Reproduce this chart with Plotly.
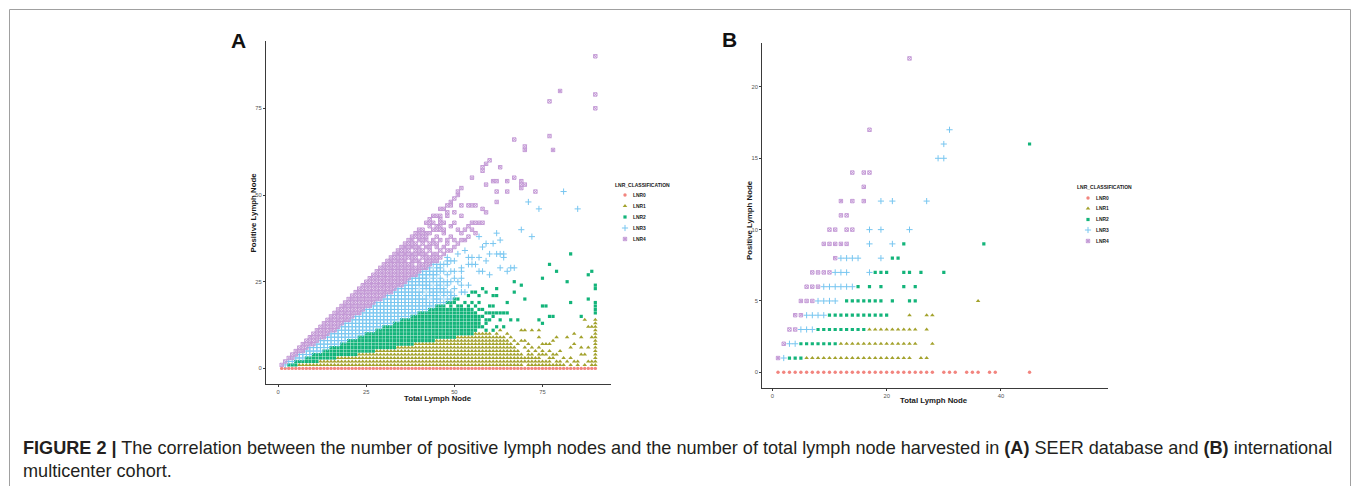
import plotly.graph_objects as go

W, H = 1360, 486

# ---------------- DATA ----------------
CATS = ["LNR0", "LNR1", "LNR2", "LNR3", "LNR4"]
COLORS = ["#F2857F", "#A3A22C", "#13B47A", "#78C6F0", "#C49AD6"]

# Panel A (SEER): per total-lymph-node column, runs of positive-node values per class
A_LNR0 = {x: "0" for x in [1, 2, 3, 4, 5, 6, 7, 8, 9, 10, 11, 12, 13, 14, 15, 16, 17, 18, 19, 20,
                           21, 22, 23, 24, 25, 26, 27, 28, 29, 30, 31, 32, 33, 34, 35, 36, 37, 38, 39, 40,
                           41, 42, 43, 44, 45, 46, 47, 48, 49, 50, 51, 52, 53, 54, 55, 56, 57, 58, 59, 60,
                           61, 62, 63, 64, 65, 66, 67, 68, 69, 70, 71, 72, 73, 74, 75, 76, 77, 78, 79, 80,
                           81, 82, 83, 84, 85, 86, 87, 88, 89, 90]}
A_LNR1 = {6: "1", 7: "1", 8: "1", 9: "1", 10: "1", 11: "1", 12: "1-2", 13: "1-2", 14: "1-2", 15: "1-2",
          16: "1-2", 17: "1-3", 18: "1-3", 19: "1-3", 20: "1-3", 21: "1-3", 22: "1-3", 23: "1-4", 24: "1-4",
          25: "1-4", 26: "1-4", 27: "1-4", 28: "1-5", 29: "1-5", 30: "1-5", 31: "1-5", 32: "1-5", 33: "1-5",
          34: "1-6", 35: "1-6", 36: "1-6", 37: "1-6", 38: "1-6", 39: "1-7", 40: "1-7", 41: "1-7", 42: "1-7",
          43: "1-7", 44: "1-7", 45: "1-8", 46: "1-8", 47: "1-8", 48: "1-8", 49: "1-8", 50: "1-8", 51: "1-9",
          52: "1-9", 53: "1-9", 54: "1-9", 55: "1-9", 56: "1-10", 57: "1-10", 58: "1-10", 59: "1-10",
          60: "1-10", 61: "1-9", 62: "1-10", 63: "1-9,11", 64: "1-9", 65: "1-8,10", 66: "1-7,9", 67: "1-6,8",
          68: "1-5,7", 69: "1-4,8,11", 70: "2-3,6,8,11", 71: "1-5,7", 72: "1-4,6,11", 73: "1-3,5",
          74: "1-4,6,9,11", 75: "1-2,4-5,7", 76: "1-2,4,7", 77: "1-3,5,7", 78: "1,3-4,8", 79: "1-2,4,9",
          80: "1-2,5", 81: "1,3", 82: "2,9", 83: "1,3,6", 84: "2,7,10", 85: "1-2", 86: "4,6,9", 87: "1,4,14",
          88: "2,6,12", 89: "1-2,9,12", 90: "1-14"}
A_LNR2 = {3: "1", 4: "1", 5: "1-2", 6: "2", 7: "2", 8: "2-3", 9: "2-3", 10: "2-4", 11: "2-4", 12: "3-4",
          13: "3-5", 14: "3-5", 15: "3-6", 16: "3-6", 17: "4-6", 18: "4-7", 19: "4-7", 20: "4-8", 21: "4-8",
          22: "4-8", 23: "5-9", 24: "5-9", 25: "5-10", 26: "5-10", 27: "5-10", 28: "6-11", 29: "6-11",
          30: "6-12", 31: "6-12", 32: "6-12", 33: "6-13", 34: "7-13", 35: "7-14", 36: "7-14", 37: "7-14",
          38: "7-15", 39: "8-15", 40: "8-16", 41: "8-16", 42: "8-16", 43: "8-17", 44: "8-17", 45: "9-18",
          46: "9-18", 47: "9-18", 48: "9-17,19", 49: "9-19", 50: "9-17,19-20", 51: "10-18,20", 52: "10-18",
          53: "10-17,19", 54: "10-18,21", 55: "10-17,19,22", 56: "11-16,18,22", 57: "12-15,17,19,21",
          58: "12,15,17,23", 59: "11,13-14,16,22", 60: "14,16,18", 61: "11,15-16,18,21", 62: "12,16,21,23",
          63: "14,16", 64: "12,16", 65: "16,19", 66: "14", 67: "22,25", 68: "14", 69: "24", 70: "20",
          74: "14", 75: "13,18,26", 76: "18", 77: "15,30", 78: "15", 79: "28", 82: "25", 83: "19,33",
          86: "15", 88: "20,27", 89: "28", 90: "16-19,23-24"}
A_LNR3 = {2: "1", 3: "2", 4: "2", 5: "3", 6: "3-4", 7: "3-4", 8: "4-5", 9: "4-6", 10: "5-6", 11: "5-7",
          12: "5-8", 13: "6-8", 14: "6-9", 15: "7-10", 16: "7-10", 17: "7-11", 18: "8-12", 19: "8-13",
          20: "9-13", 21: "9-14", 22: "9-15", 23: "10-15", 24: "10-16", 25: "11-17", 26: "11-17",
          27: "11-18", 28: "12-19", 29: "12-19", 30: "13-20", 31: "13-21", 32: "13-21", 33: "14-22",
          34: "14-23", 35: "15-23", 36: "15-24", 37: "15-25", 38: "16-26", 39: "16-26", 40: "17-22,24-27",
          41: "17-20,22-28", 42: "17-21,23-28", 43: "18-19,21-25,27-29", 44: "18-23,25-28,30",
          45: "19-25,27-30", 46: "19-20,22-26,28-30", 47: "19,21-23,25,28,30", 48: "20,22,24-25,27,30-32",
          49: "20-22,25,28,31", 50: "21,23,26,28,31", 51: "25,33", 52: "22,24,26,28-29", 53: "22,34",
          54: "24,30,32", 55: "30,32", 56: "30", 57: "28,32,38", 58: "28,35", 59: "31,36", 60: "27,33",
          61: "36", 62: "33,39", 63: "29,33,37", 64: "32-33", 65: "28", 66: "29", 67: "29", 69: "40",
          71: "48", 72: "38", 74: "46", 81: "51", 85: "46"}
A_LNR4 = {1: "1", 2: "2", 3: "3", 4: "3-4", 5: "4-5", 6: "5-6", 7: "5-7", 8: "6-8", 9: "7-9", 10: "7-10",
          11: "8-11", 12: "9-12", 13: "9-13", 14: "10-14", 15: "11-15", 16: "11-16", 17: "12-17",
          18: "13-18", 19: "14-19", 20: "14-20", 21: "15-21", 22: "16-22", 23: "16-23", 24: "17-24",
          25: "18-25", 26: "18-26", 27: "19-27", 28: "20-28", 29: "20-29", 30: "21-30", 31: "22-31",
          32: "22-32", 33: "23-33", 34: "24-34", 35: "24-35", 36: "25-36", 37: "26-30,32-37",
          38: "27-33,35-38", 39: "27-29,31-36,38-39", 40: "28-31,33-35,37-40", 41: "29-30,32-34,36-40",
          42: "29-33,35,37-39,42", 43: "30-32,34-36,39,41-43", 44: "31-33,36-37,40,42,44",
          45: "31-33,35-36,38,40-41,44", 46: "32,34,37,40-44,46", 47: "33,35,39-40,42,46",
          48: "34,36-37,44-45,47", 49: "34,38,41,47-48", 50: "35,37,42,45,49", 51: "36,40,50-51",
          52: "37,39,44,47,52", 53: "37,40", 54: "38,41,47", 55: "40,42,47,55", 56: "39,42,47", 57: "42",
          58: "42,46,57-58", 59: "45,53,59", 60: "60", 61: "54", 62: "48,51,54", 63: "58", 65: "51,54",
          67: "55,66", 69: "52-54", 70: "53,63-64", 73: "51", 77: "67,77", 78: "63", 80: "80",
          90: "75,79,90"}

# Panel B (international multicenter cohort): positive-node value -> totals, per class
B_LNR0 = {0: "1-28,30-32,34-36,38-39,45"}
B_LNR1 = {1: "6-24,26-27", 2: "12-25,28", 3: "17-25,27", 4: "24,27-28", 5: "36"}
B_LNR2 = {1: "3-5", 2: "5-11", 3: "8-16", 4: "10-20", 5: "13-19,21,24-25", 6: "15,17,19,23,25",
          7: "18-20,23-24,26,30", 8: "21-22", 9: "23,37", 16: "45"}
B_LNR3 = {1: "2", 2: "3-4", 3: "5-7", 4: "6-9", 5: "8-11", 6: "9-14", 7: "11-13,17", 8: "12-15,19",
          9: "17,21", 10: "17,19,24", 12: "19,21,27", 15: "29-30", 16: "30", 17: "31"}
B_LNR4 = {1: "1", 2: "2", 3: "3-4", 4: "4-5", 5: "5-7", 6: "6-8", 7: "7-10", 8: "11", 9: "9-13",
          10: "10-11,13-14", 11: "12-13", 12: "12,14,16", 13: "16", 14: "14,16-17", 17: "17", 22: "24"}

A_XTICKS = [0, 25, 50, 75]
A_YTICKS = [0, 25, 50, 75]
B_XTICKS = [0, 20, 40]
B_YTICKS = [0, 5, 10, 15, 20]

CAPTION_1 = ("<b>FIGURE 2 |</b> The correlation between the number of positive lymph nodes and the number "
             "of total lymph node harvested in <b>(A)</b> SEER database and <b>(B)</b> international")
CAPTION_2 = "multicenter cohort."


# ---------------- HELPERS ----------------
def runs(s):
    out = []
    for part in s.split(","):
        part = part.strip()
        if not part:
            continue
        if "-" in part:
            a, b = part.split("-")
            out.extend(range(int(a), int(b) + 1))
        else:
            out.append(int(part))
    return out


def cols_to_xy(d):
    xs, ys = [], []
    for x, s in d.items():
        for y in runs(s):
            xs.append(x)
            ys.append(y)
    return xs, ys


def rows_to_xy(d):
    xs, ys = [], []
    for y, s in d.items():
        for x in runs(s):
            xs.append(x)
            ys.append(y)
    return xs, ys


def mk(sym_idx, color):
    if sym_idx == 0:
        return dict(symbol="circle", size=3.4, color=color, line=dict(width=0))
    if sym_idx == 1:
        return dict(symbol="triangle-up", size=4.0, color=color, line=dict(width=0))
    if sym_idx == 2:
        return dict(symbol="square", size=3.2, color=color, line=dict(width=0))
    if sym_idx == 3:
        return dict(symbol="cross-thin", size=4.4, color=color, line=dict(width=1, color=color))
    return dict(symbol="square-x-open", size=3.4, color=color, line=dict(width=1, color=color))


def dom_x(a, b):
    return [a / W, b / W]


def dom_y(top, bottom):
    return [1 - bottom / H, 1 - top / H]


fig = go.Figure()

A_SETS = [A_LNR0, A_LNR1, A_LNR2, A_LNR3, A_LNR4]
B_SETS = [B_LNR0, B_LNR1, B_LNR2, B_LNR3, B_LNR4]
for i, cat in enumerate(CATS):
    xs, ys = cols_to_xy(A_SETS[i])
    fig.add_trace(go.Scatter(x=xs, y=ys, mode="markers", name=cat, showlegend=False,
                             marker=mk(i, COLORS[i]), xaxis="x", yaxis="y", hoverinfo="skip"))
for i, cat in enumerate(CATS):
    xs, ys = rows_to_xy(B_SETS[i])
    fig.add_trace(go.Scatter(x=xs, y=ys, mode="markers", name=cat, showlegend=False,
                             marker=mk(i, COLORS[i]), xaxis="x2", yaxis="y2", hoverinfo="skip"))

FONT = "Liberation Sans"
# legends drawn on a pixel overlay axis
LEG = [dict(title=(642.5, 184.5), mx=625, lx=630.5, rows=[195, 206, 217, 228, 239]),
       dict(title=(1104, 186.5), mx=1088, lx=1093.5, rows=[198, 208.5, 219.5, 230, 241])]
annotations = []
for lg in LEG:
    for i, cat in enumerate(CATS):
        fig.add_trace(go.Scatter(x=[lg["mx"]], y=[lg["rows"][i]], mode="markers", showlegend=False,
                                 marker=mk(i, COLORS[i]), xaxis="x3", yaxis="y3", hoverinfo="skip"))
        annotations.append(dict(x=lg["lx"], y=lg["rows"][i], xref="x3", yref="y3", text="<b>" + cat + "</b>",
                                showarrow=False, xanchor="left", yanchor="middle",
                                font=dict(family=FONT, size=4.9, color="#1a1a1a")))
    annotations.append(dict(x=lg["title"][0], y=lg["title"][1], xref="x3", yref="y3",
                            text="<b>LNR_CLASSIFICATION</b>", showarrow=False, xanchor="center",
                            yanchor="middle", font=dict(family=FONT, size=5.0, color="#1a1a1a")))

# axis titles, panel letters, caption
txt = [
    (438, 398, "<b>Total Lymph Node</b>", 7.8, 0),
    (934, 400.5, "<b>Total Lymph Node</b>", 7.8, 0),
    (252.5, 213, "<b>Positive Lymph Node</b>", 7.8, -90),
    (749, 220, "<b>Positive Lymph Node</b>", 7.8, -90),
]
for x, y, t, s, a in txt:
    annotations.append(dict(x=x, y=y, xref="x3", yref="y3", text=t, showarrow=False, textangle=a,
                            xanchor="center", yanchor="middle",
                            font=dict(family=FONT, size=s, color="#1a1a1a")))
annotations.append(dict(x=238.5, y=40, xref="x3", yref="y3", text="<b>A</b>", showarrow=False,
                        xanchor="center", yanchor="middle", font=dict(family=FONT, size=21, color="#111")))
annotations.append(dict(x=729.5, y=39.5, xref="x3", yref="y3", text="<b>B</b>", showarrow=False,
                        xanchor="center", yanchor="middle", font=dict(family=FONT, size=21, color="#111")))
annotations.append(dict(x=21, y=448, xref="x3", yref="y3", text=CAPTION_1, showarrow=False,
                        xanchor="left", yanchor="middle", font=dict(family=FONT, size=18.1, color="#231f20")))
annotations.append(dict(x=21, y=471, xref="x3", yref="y3", text=CAPTION_2, showarrow=False,
                        xanchor="left", yanchor="middle", font=dict(family=FONT, size=18.1, color="#231f20")))

axis_common = dict(showline=True, linecolor="#3a3a3a", linewidth=1.2, ticks="outside", ticklen=2,
                   tickwidth=0.8, tickcolor="#3a3a3a", showgrid=False, zeroline=False,
                   tickfont=dict(family=FONT, size=5.8, color="#555"))

fig.update_layout(
    width=W, height=H, margin=dict(l=0, r=0, t=0, b=0),
    paper_bgcolor="white", plot_bgcolor="rgba(0,0,0,0)",
    xaxis=dict(domain=dom_x(266, 611), range=[-3.45, 94.45], tickvals=A_XTICKS, anchor="y", **axis_common),
    yaxis=dict(domain=dom_y(40.7, 384), range=[-4.5, 94.5], tickvals=A_YTICKS, anchor="x", **axis_common),
    xaxis2=dict(domain=dom_x(762.3, 1108), range=[-1.75, 58.72], tickvals=B_XTICKS, anchor="y2", **axis_common),
    yaxis2=dict(domain=dom_y(43.3, 387.7), range=[-1.08, 23.06], tickvals=B_YTICKS, anchor="x2", **axis_common),
    xaxis3=dict(domain=[0, 1], range=[0, W], visible=False, anchor="y3"),
    yaxis3=dict(domain=[0, 1], range=[H, 0], visible=False, anchor="x3"),
    annotations=annotations,
    shapes=[dict(type="rect", xref="x3", yref="y3", x0=9.5, x1=1350.5, y0=9.5, y1=495,
                 line=dict(color="#a0a0a0", width=1), layer="below")],
)

fig.write_html("out.html", config={"displayModeBar": False},
               post_script="document.body.style.margin='0';document.body.style.overflow='hidden';")
